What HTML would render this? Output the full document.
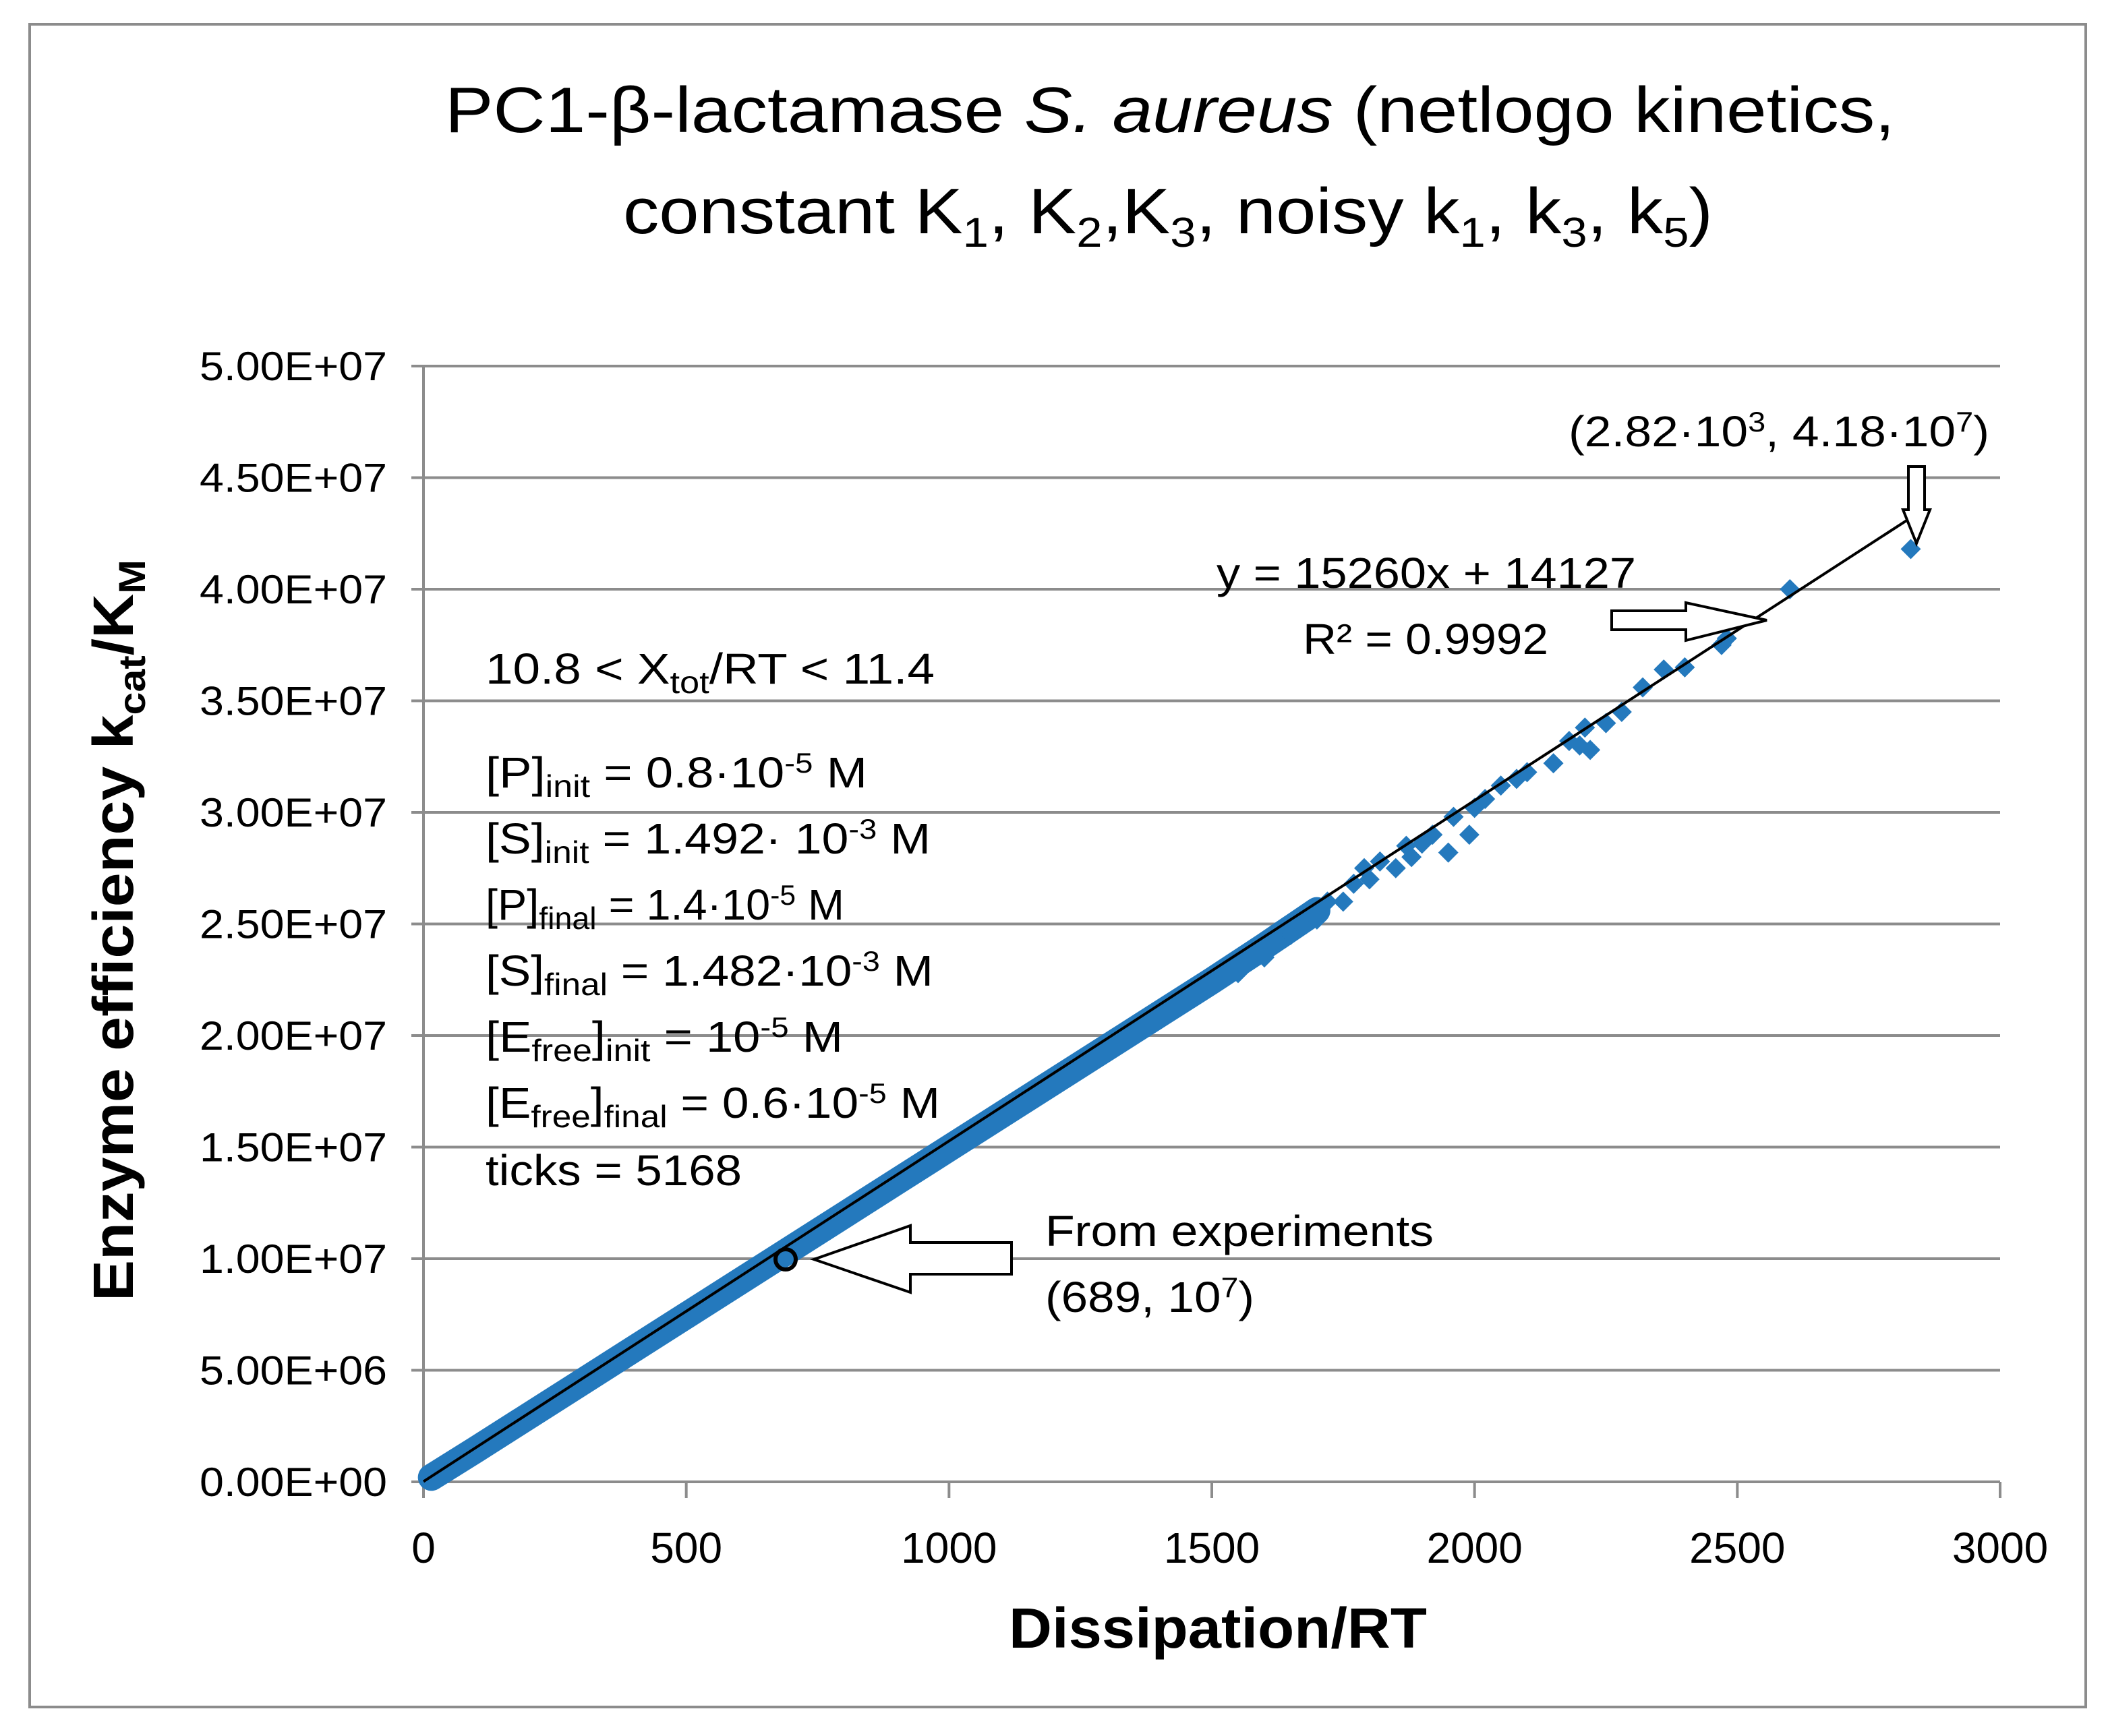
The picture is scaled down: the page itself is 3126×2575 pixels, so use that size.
<!DOCTYPE html>
<html><head><meta charset="utf-8"><style>
html,body{margin:0;padding:0;background:#fff}
svg{display:block}
text{font-family:"Liberation Sans",sans-serif;fill:#000}
</style></head><body>
<svg id="chart" width="3126" height="2575" viewBox="0 0 3126 2575" xmlns="http://www.w3.org/2000/svg">
<rect x="44" y="36" width="3049" height="2496" fill="#fff" stroke="#8c8c8c" stroke-width="4"/>
<g id="grid"></g>
<g id="band"></g>
<g id="points"></g>
<g id="trend"></g>
<g id="ticks"></g>
<text x="660" y="196" font-size="96" textLength="2150" lengthAdjust="spacingAndGlyphs">PC1-β-lactamase <tspan font-style="italic">S. aureus</tspan> (netlogo kinetics,</text>
<text x="924" y="346" font-size="96" textLength="1616" lengthAdjust="spacingAndGlyphs">constant K<tspan font-size="62" dy="20">1</tspan><tspan dy="-20">, K</tspan><tspan font-size="62" dy="20">2</tspan><tspan dy="-20">,K</tspan><tspan font-size="62" dy="20">3</tspan><tspan dy="-20">, noisy k</tspan><tspan font-size="62" dy="20">1</tspan><tspan dy="-20">, k</tspan><tspan font-size="62" dy="20">3</tspan><tspan dy="-20">, k</tspan><tspan font-size="62" dy="20">5</tspan><tspan dy="-20">)</tspan></text>
<text x="1806" y="2444" font-size="84" font-weight="bold" text-anchor="middle" textLength="620" lengthAdjust="spacingAndGlyphs">Dissipation/RT</text>
<text transform="translate(197,1380) rotate(-90)" font-size="84" font-weight="bold" text-anchor="middle" textLength="1100" lengthAdjust="spacingAndGlyphs">Enzyme  efficiency k<tspan font-size="56" dy="18">cat</tspan><tspan dy="-18">/K</tspan><tspan font-size="56" dy="18">M</tspan></text>
<g font-size="64">
<text x="720" y="1014" textLength="666" lengthAdjust="spacingAndGlyphs">10.8 &lt;  X<tspan font-size="46" dy="14">tot</tspan><tspan dy="-14">/RT &lt; 11.4</tspan></text>
<text x="720" y="1168" textLength="566" lengthAdjust="spacingAndGlyphs">[P]<tspan font-size="46" dy="14">init</tspan><tspan dy="-14">  = 0.8·10</tspan><tspan font-size="42" dy="-22">-5</tspan><tspan dy="22"> M</tspan></text>
<text x="720" y="1266" textLength="660" lengthAdjust="spacingAndGlyphs">[S]<tspan font-size="46" dy="14">init</tspan><tspan dy="-14"> = 1.492· 10</tspan><tspan font-size="42" dy="-22">-3</tspan><tspan dy="22"> M</tspan></text>
<text x="720" y="1364" textLength="532" lengthAdjust="spacingAndGlyphs">[P]<tspan font-size="46" dy="14">final</tspan><tspan dy="-14">  = 1.4·10</tspan><tspan font-size="42" dy="-22">-5</tspan><tspan dy="22"> M</tspan></text>
<text x="720" y="1462" textLength="664" lengthAdjust="spacingAndGlyphs">[S]<tspan font-size="46" dy="14">final</tspan><tspan dy="-14"> = 1.482·10</tspan><tspan font-size="42" dy="-22">-3</tspan><tspan dy="22"> M</tspan></text>
<text x="720" y="1560" textLength="530" lengthAdjust="spacingAndGlyphs">[E<tspan font-size="46" dy="14">free</tspan><tspan dy="-14">]</tspan><tspan font-size="46" dy="14">init</tspan><tspan dy="-14">  = 10</tspan><tspan font-size="42" dy="-22">-5</tspan><tspan dy="22"> M</tspan></text>
<text x="720" y="1658" textLength="674" lengthAdjust="spacingAndGlyphs">[E<tspan font-size="46" dy="14">free</tspan><tspan dy="-14">]</tspan><tspan font-size="46" dy="14">final</tspan><tspan dy="-14">  = 0.6·10</tspan><tspan font-size="42" dy="-22">-5</tspan><tspan dy="22"> M</tspan></text>
<text x="720" y="1758" textLength="380" lengthAdjust="spacingAndGlyphs">ticks = 5168</text>
</g>
<text x="1804" y="872" font-size="64" textLength="622" lengthAdjust="spacingAndGlyphs">y = 15260x + 14127</text>
<text x="1932" y="970" font-size="64" textLength="364" lengthAdjust="spacingAndGlyphs">R² = 0.9992</text>
<text x="1550" y="1848" font-size="64" textLength="576" lengthAdjust="spacingAndGlyphs">From experiments</text>
<text x="1550" y="1946" font-size="64" textLength="310" lengthAdjust="spacingAndGlyphs">(689, 10<tspan font-size="42" dy="-22">7</tspan><tspan dy="22">)</tspan></text>
<text x="2326" y="662" font-size="64" textLength="624" lengthAdjust="spacingAndGlyphs">(2.82·10<tspan font-size="42" dy="-22">3</tspan><tspan dy="22">, 4.18·10</tspan><tspan font-size="42" dy="-22">7</tspan><tspan dy="22">)</tspan></text>
<polygon points="1207,1868 1350,1818 1350,1843 1500,1843 1500,1890 1350,1890 1350,1917" fill="#fff" stroke="#000" stroke-width="4"/>
<polygon points="2620,920 2500,894 2500,906 2390,906 2390,934 2500,934 2500,950" fill="#fff" stroke="#000" stroke-width="4"/>
<polygon points="2842,806 2822,756 2830,756 2830,692 2854,692 2854,756 2862,756" fill="#fff" stroke="#000" stroke-width="4"/>
<circle cx="1165" cy="1868" r="15" fill="none" stroke="#000" stroke-width="6"/>
</svg>
<script>
const xTicks = [0, 500, 1000, 1500, 2000, 2500, 3000];
const yTicks = [0, 5e6, 1e7, 1.5e7, 2e7, 2.5e7, 3e7, 3.5e7, 4e7, 4.5e7, 5e7];
const yTickLabels = ["0.00E+00","5.00E+06","1.00E+07","1.50E+07","2.00E+07","2.50E+07","3.00E+07","3.50E+07","4.00E+07","4.50E+07","5.00E+07"];
const bandX = [15, 100, 200, 300, 400, 500, 600, 700, 800, 900, 1000, 1100, 1200, 1300, 1400, 1500, 1600, 1700];
const bandY = [0.02e7, 0.145e7, 0.295e7, 0.445e7, 0.595e7, 0.745e7, 0.895e7, 1.045e7, 1.195e7, 1.345e7, 1.495e7, 1.645e7, 1.795e7, 1.945e7, 2.095e7, 2.245e7, 2.40e7, 2.56e7];
const pointX = [1350, 1450, 1500, 1550, 1580, 1600, 1620, 1650, 1680, 1700, 1720, 1750, 1770, 1790, 1800, 1820, 1850, 1870, 1880, 1900, 1920, 1950, 1960, 1990, 2000, 2020, 2050, 2080, 2100, 2150, 2180, 2200, 2210, 2220, 2250, 2280, 2320, 2360, 2400, 2470, 2480, 2600, 2830];
const pointY = [2.0e7, 2.15e7, 2.27e7, 2.28e7, 2.36e7, 2.35e7, 2.46e7, 2.45e7, 2.5e7, 2.52e7, 2.6e7, 2.6e7, 2.68e7, 2.75e7, 2.7e7, 2.78e7, 2.75e7, 2.85e7, 2.8e7, 2.86e7, 2.9e7, 2.82e7, 2.98e7, 2.9e7, 3.02e7, 3.06e7, 3.12e7, 3.15e7, 3.18e7, 3.22e7, 3.32e7, 3.3e7, 3.38e7, 3.28e7, 3.4e7, 3.45e7, 3.56e7, 3.64e7, 3.65e7, 3.75e7, 3.78e7, 4.0e7, 4.18e7];
const trendSlope = 15260;
const trendIntercept = 14127;
const trendRange = [0, 2830];

const NS = "http://www.w3.org/2000/svg";
const X0 = 628, X1 = 2966, Y0 = 2198, Y1 = 543;
const sx = v => X0 + (v - 0) / 3000 * (X1 - X0);
const sy = v => Y0 - v / 5e7 * (Y0 - Y1);
function mk(tag, attrs, parent) {
  const e = document.createElementNS(NS, tag);
  for (const k in attrs) e.setAttribute(k, attrs[k]);
  parent.appendChild(e);
  return e;
}
const grid = document.getElementById('grid');
yTicks.forEach((v, i) => {
  const l = mk('line', {x1: 610, x2: X1, y1: sy(v), y2: sy(v), stroke: '#8c8c8c', 'stroke-width': 4}, grid);
  
  
  const t = mk('text', {x: 574, y: sy(v) + 21, 'font-size': 60, 'text-anchor': 'end', textLength: 278, lengthAdjust: 'spacingAndGlyphs'}, document.getElementById('ticks'));
  t.textContent = yTickLabels[i];
  
  
});
const ax = mk('line', {x1: X0, x2: X0, y1: Y1, y2: Y0 + 22, stroke: '#8c8c8c', 'stroke-width': 4}, grid);


xTicks.forEach(v => {
  const l = mk('line', {x1: sx(v), x2: sx(v), y1: Y0, y2: Y0 + 24, stroke: '#8c8c8c', 'stroke-width': 4}, grid);
  
  
  const t = mk('text', {x: sx(v), y: 2318, 'font-size': 64, 'text-anchor': 'middle'}, document.getElementById('ticks'));
  t.textContent = String(v);
  
  
});
const band = mk('polyline', {points: bandX.map((x, i) => sx(x) + ',' + sy(bandY[i])).join(' '), fill: 'none', stroke: '#2479bd', 'stroke-width': 40, 'stroke-linecap': 'round'}, document.getElementById('band'));


const pts = document.getElementById('points');
pointX.forEach((x, i) => {
  const cx = sx(x), cy = sy(pointY[i]), r = 15;
  const p = mk('polygon', {points: `${cx},${cy - r} ${cx + r},${cy} ${cx},${cy + r} ${cx - r},${cy}`, fill: '#2479bd'}, pts);
  
  
});
const tl = mk('line', {x1: sx(trendRange[0]), y1: sy(trendSlope * trendRange[0] + trendIntercept), x2: sx(trendRange[1]), y2: sy(trendSlope * trendRange[1] + trendIntercept), stroke: '#000', 'stroke-width': 4}, document.getElementById('trend'));


</script>
</body></html>
